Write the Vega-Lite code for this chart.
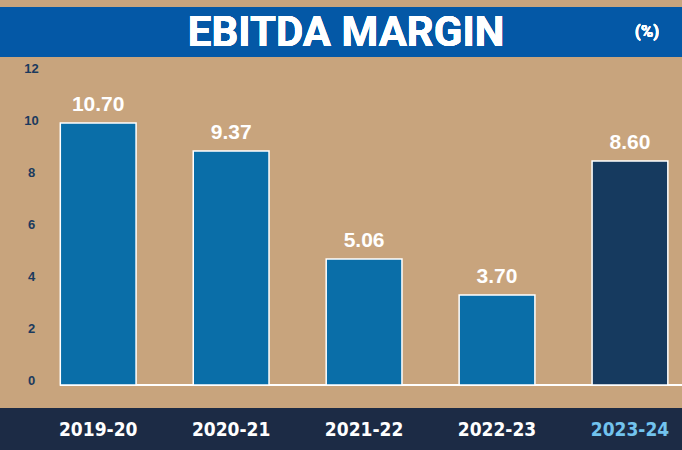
{
  "$schema": "https://vega.github.io/schema/vega-lite/v6.json",
  "width": 682,
  "height": 450,
  "padding": 0,
  "autosize": {"type": "none"},
  "background": "#c8a47d",
  "config": {"view": {"stroke": null}},
  "data": {
    "values": [
      {"year": "2019-20", "bar": 10.08, "label": "10.70", "current": false},
      {"year": "2020-21", "bar": 9.0, "label": "9.37", "current": false},
      {"year": "2021-22", "bar": 4.85, "label": "5.06", "current": false},
      {"year": "2022-23", "bar": 3.46, "label": "3.70", "current": false},
      {"year": "2023-24", "bar": 8.62, "label": "8.60", "current": true}
    ]
  },
  "encoding": {
    "x": {
      "field": "year",
      "type": "nominal",
      "sort": null,
      "scale": {"domain": ["2019-20", "2020-21", "2021-22", "2022-23", "2023-24"], "paddingInner": 0.43, "paddingOuter": 0.28, "align": 0.81},
      "axis": {
        "title": null,
        "orient": "bottom",
        "offset": -21,
        "domain": false,
        "ticks": false,
        "tickSize": 0,
        "labelPadding": 0,
        "labelBaseline": "middle",
        "labelAngle": 0,
        "labelFont": "DejaVu Sans Condensed",
        "labelFontWeight": "bold",
        "labelFontSize": 19,
        "labelColor": {"condition": {"test": "datum.value == '2023-24'", "value": "#72c3ee"}, "value": "#ffffff"},
        "zindex": 2
      }
    }
  },
  "layer": [
    {
      "mark": {"type": "rect", "color": "#0458a6"},
      "encoding": {
        "x": null,
        "y": {"datum": 12.615, "type": "quantitative", "scale": {"domain": [-2.5, 14.808], "nice": false, "zero": false}},
        "y2": {"datum": 14.54}
      }
    },
    {
      "mark": {"type": "rect", "color": "#1c2b45"},
      "encoding": {
        "x": null,
        "y": {"datum": -0.885, "type": "quantitative"},
        "y2": {"datum": -2.5}
      }
    },
    {
      "mark": {"type": "text", "font": "Roboto", "fontWeight": "bold", "fontSize": 42, "color": "#ffffff", "baseline": "middle", "align": "center", "dx": -18},
      "encoding": {
        "x": {"datum": "2021-22"},
        "y": {"datum": 13.54, "type": "quantitative"},
        "text": {"value": "EBITDA MARGIN"}
      }
    },
    {
      "mark": {"type": "text", "font": "Roboto", "fontWeight": "bold", "fontSize": 17, "color": "#ffffff", "baseline": "middle", "align": "center", "dx": 17},
      "encoding": {
        "x": {"datum": "2023-24"},
        "y": {"datum": 13.58, "type": "quantitative"},
        "text": {"value": "(%)"}
      }
    },
    {
      "mark": {"type": "rule", "color": "#ffffff", "strokeWidth": 1.5},
      "encoding": {
        "x": {"datum": "2019-20", "bandPosition": 0},
        "x2": {"value": {"expr": "width"}},
        "y": {"datum": 0, "type": "quantitative"}
      }
    },
    {
      "mark": {"type": "bar", "stroke": "#ffffff", "strokeWidth": 1.5},
      "encoding": {
        "y": {
          "field": "bar",
          "type": "quantitative",
          "axis": {
            "title": null,
            "orient": "left",
            "values": [0, 2, 4, 6, 8, 10, 12],
            "offset": -31,
            "domain": false,
            "ticks": false,
            "tickSize": 0,
            "grid": false,
            "labelPadding": 0,
            "labelAlign": "center",
            "labelBaseline": "middle",
            "labelOffset": -5,
            "labelFont": "Liberation Sans",
            "labelFontWeight": "bold",
            "labelFontSize": 13,
            "labelColor": "#1b3a5e"
          }
        },
        "y2": {"datum": 0},
        "color": {
          "field": "current",
          "type": "nominal",
          "scale": {"domain": [false, true], "range": ["#0a6ea8", "#163a5f"]},
          "legend": null
        }
      }
    },
    {
      "mark": {"type": "text", "font": "Liberation Sans", "fontWeight": "bold", "fontSize": 21, "color": "#ffffff", "baseline": "alphabetic", "align": "center", "dy": -12},
      "encoding": {
        "y": {"field": "bar", "type": "quantitative"},
        "text": {"field": "label"}
      }
    }
  ]
}
